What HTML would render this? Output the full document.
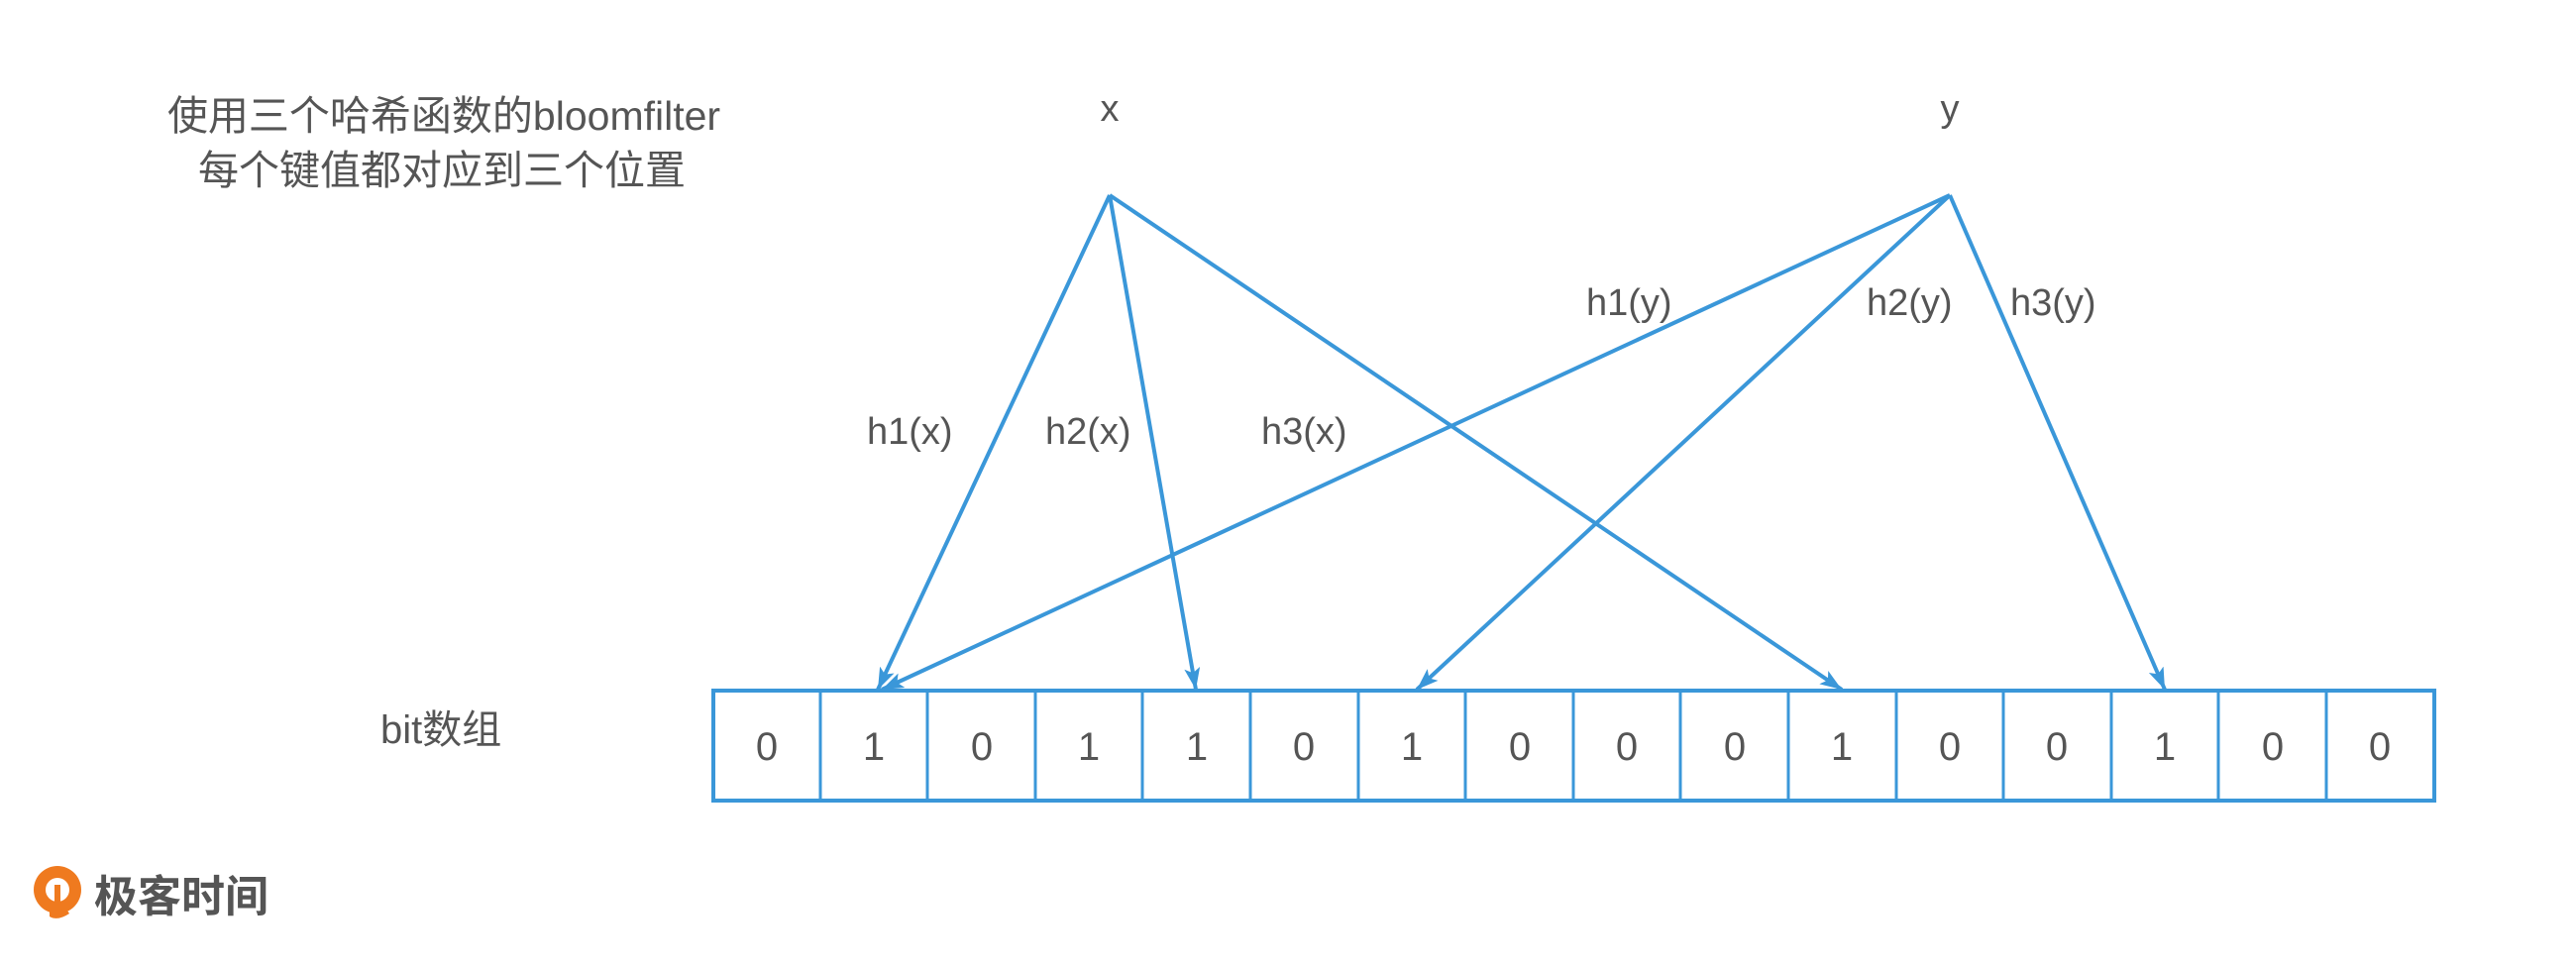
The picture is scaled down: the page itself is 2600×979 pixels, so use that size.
<!DOCTYPE html>
<html><head><meta charset="utf-8"><style>
html,body{margin:0;padding:0;background:#fff;}
svg{display:block;}
text{font-family:"Liberation Sans","Noto Sans CJK SC",sans-serif;fill:#555;}
</style></head><body>
<svg width="2600" height="979" viewBox="0 0 2600 979" xmlns="http://www.w3.org/2000/svg">
<defs>
<marker id="a" markerWidth="24" markerHeight="16" refX="22" refY="8" orient="auto" markerUnits="userSpaceOnUse" viewBox="0 0 24 16">
<path d="M0 0 L22 8 L0 16 L5 8 Z" fill="#3a97d9"/>
</marker>
</defs>
<text x="448" y="131" font-size="41" text-anchor="middle">使用三个哈希函数的bloomfilter</text>
<text x="446" y="186" font-size="41" text-anchor="middle">每个键值都对应到三个位置</text>
<text x="1120" y="122" font-size="38" text-anchor="middle">x</text>
<text x="1968" y="122" font-size="38" text-anchor="middle">y</text>
<text x="875" y="448" font-size="38">h1(x)</text>
<text x="1055" y="448" font-size="38">h2(x)</text>
<text x="1273" y="448" font-size="38">h3(x)</text>
<text x="1601" y="318" font-size="38">h1(y)</text>
<text x="1884" y="318" font-size="38">h2(y)</text>
<text x="2029" y="318" font-size="38">h3(y)</text>
<text x="384" y="750" font-size="40">bit数组</text>
<g stroke="#3a97d9" stroke-width="4" fill="none" marker-end="url(#a)">
<line x1="1120" y1="197" x2="886" y2="696"/>
<line x1="1120" y1="197" x2="1207" y2="696"/>
<line x1="1120" y1="197" x2="1859" y2="696"/>
<line x1="1968" y1="197" x2="890" y2="696"/>
<line x1="1968" y1="197" x2="1430" y2="696"/>
<line x1="1968" y1="197" x2="2185" y2="696"/>
</g>
<g stroke="#3a97d9" stroke-width="4" fill="none">
<rect x="720" y="697" width="1737" height="111"/>
</g>
<g stroke="#3a97d9" stroke-width="3">
<line x1="828" y1="697" x2="828" y2="808"/><line x1="936" y1="697" x2="936" y2="808"/><line x1="1045" y1="697" x2="1045" y2="808"/><line x1="1153" y1="697" x2="1153" y2="808"/><line x1="1262" y1="697" x2="1262" y2="808"/><line x1="1371" y1="697" x2="1371" y2="808"/><line x1="1479" y1="697" x2="1479" y2="808"/><line x1="1588" y1="697" x2="1588" y2="808"/><line x1="1696" y1="697" x2="1696" y2="808"/><line x1="1805" y1="697" x2="1805" y2="808"/><line x1="1914" y1="697" x2="1914" y2="808"/><line x1="2022" y1="697" x2="2022" y2="808"/><line x1="2131" y1="697" x2="2131" y2="808"/><line x1="2239" y1="697" x2="2239" y2="808"/><line x1="2348" y1="697" x2="2348" y2="808"/>
</g>
<g font-size="40" text-anchor="middle">
<text x="774" y="767">0</text><text x="882" y="767">1</text><text x="991" y="767">0</text><text x="1099" y="767">1</text><text x="1208" y="767">1</text><text x="1316" y="767">0</text><text x="1425" y="767">1</text><text x="1534" y="767">0</text><text x="1642" y="767">0</text><text x="1751" y="767">0</text><text x="1859" y="767">1</text><text x="1968" y="767">0</text><text x="2076" y="767">0</text><text x="2185" y="767">1</text><text x="2294" y="767">0</text><text x="2402" y="767">0</text>
</g>
<g>
<circle cx="58" cy="898" r="24" fill="#ef7a1f"/>
<circle cx="58" cy="898" r="12" fill="#fff"/>
<path d="M50 925 Q58 930 70 922 L66 916 Q58 920 50 918 Z" fill="#ef7a1f"/>
<rect x="55" y="893" width="6" height="22" fill="#ef7a1f"/>
</g>
<text x="95" y="920" font-size="44" font-weight="bold" style="fill:#555">极客时间</text>
</svg>
</body></html>
